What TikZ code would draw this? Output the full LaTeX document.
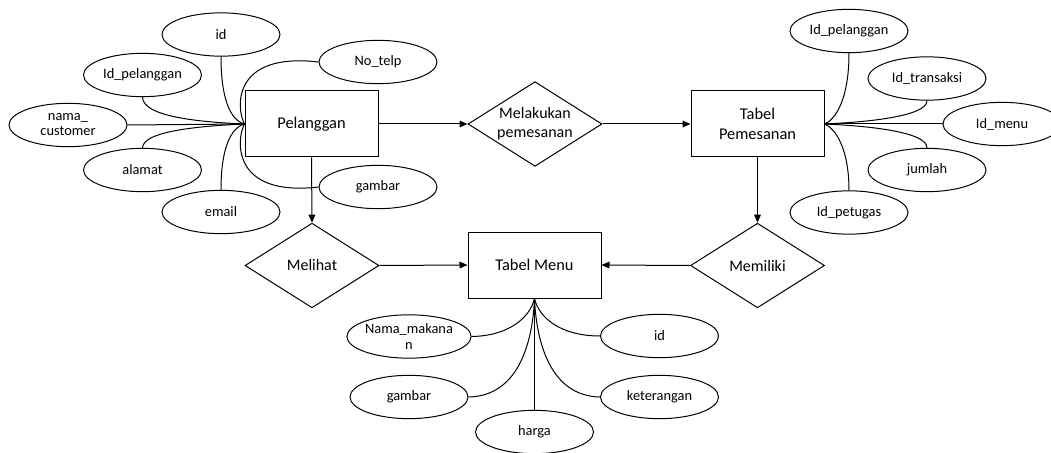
\documentclass[tikz,border=0pt]{standalone}
\usepackage{fontspec}
\setmainfont{Carlito}
\usetikzlibrary{shapes.geometric,arrows.meta}
\begin{document}
\begin{tikzpicture}[x=0.75pt,y=-0.75pt,
  every path/.style={line width=0.75pt},
  entity/.style={draw,rectangle,minimum width=99.75pt,minimum height=49.5pt,inner sep=0pt,align=center,font=\fontsize{12.3}{15}\selectfont},
  rel/.style={draw,diamond,aspect=1.58,minimum width=100.5pt,minimum height=63.5pt,inner sep=0pt,align=center,font=\fontsize{12}{14}\selectfont},
  attr/.style={draw,ellipse,minimum width=88.5pt,minimum height=32.5pt,inner sep=0pt,align=center,font=\fontsize{10.8}{11.3}\selectfont},
  arr/.style={-{Triangle[length=6pt,width=5pt]}},
  link/.style={draw}
]
\useasboundingbox (0,0) rectangle (1051,453);

% entities
\node[entity] (pel) at (311.5,124) {Pelanggan};
\node[entity] (pem) at (757.5,124) {Tabel\\Pemesanan};
\node[entity] (menu) at (534.5,265) {Tabel Menu};

% relations
\node[rel] (mel) at (535,124) {Melakukan\\pemesanan};
\node[rel] (lih) at (312,265.5) {Melihat};
\node[rel] (mil) at (757.5,265.5) {Memiliki};

% Pelanggan attributes
\node[attr] (pid) at (221,34.5) {id};
\node[attr] (pnotelp) at (378,62) {No\_telp};
\node[attr] (pidpel) at (142.5,75) {Id\_pelanggan};
\node[attr] (pnama) at (68,125) {nama\_\\customer};
\node[attr] (palamat) at (142.5,170) {alamat};
\node[attr] (pemail) at (221,212) {email};
\node[attr] (pgambar) at (378,187) {gambar};

% Pemesanan attributes
\node[attr] (midpel) at (849,31) {Id\_pelanggan};
\node[attr] (midtr) at (927,78.5) {Id\_transaksi};
\node[attr] (midmenu) at (1002,124) {Id\_menu};
\node[attr] (mjumlah) at (927,170) {jumlah};
\node[attr] (midpet) at (849,212.5) {Id\_petugas};

% Menu attributes
\node[attr] (tnama) at (409,336.5) {Nama\_makana\\n};
\node[attr] (tgambar) at (409,397) {gambar};
\node[attr] (tharga) at (534.5,432) {harga};
\node[attr] (tid) at (659.5,336) {id};
\node[attr] (tket) at (659.5,397) {keterangan};

% hubs
\coordinate (hp) at (pel.west);
\coordinate (hm) at (pem.east);
\coordinate (ht) at (menu.south);

% arrows
\draw[arr] (pel.east) -- (mel.west);
\draw[arr] (mel.east) -- (pem.west);
\draw[arr] (pel.south) -- (lih.north);
\draw[arr] (lih.east) -- (menu.west);
\draw[arr] (pem.south) -- (mil.north);
\draw[arr] (mil.west) -- (menu.east);

% Pelanggan links
\draw[link] (pid.south) .. controls (221,98) and (230,120) .. (hp);
\draw[link] (pnotelp.west) .. controls (232,52) and (236,108) .. (hp);
\draw[link] (pidpel.south) .. controls (143,117) and (200,122) .. (hp);
\draw[link] (pnama.east) -- (hp);
\draw[link] (palamat.north) .. controls (143,131) and (200,126) .. (hp);
\draw[link] (pemail.north) .. controls (221,150) and (230,128) .. (hp);
\draw[link] (pgambar.west) .. controls (232,197) and (236,140) .. (hp);

% Pemesanan links
\draw[link] (midpel.south) .. controls (849,100) and (835,120) .. (hm);
\draw[link] (midtr.south) .. controls (927,116) and (870,122) .. (hm);
\draw[link] (midmenu.west) -- (hm);
\draw[link] (mjumlah.north) .. controls (927,132) and (870,126) .. (hm);
\draw[link] (midpet.north) .. controls (849,148) and (835,128) .. (hm);

% Menu links
\draw[link] (tnama.east) .. controls (508,336) and (530,318) .. (ht);
\draw[link] (tgambar.east) .. controls (522,396) and (533,335) .. (ht);
\draw[link] (tharga.north) -- (ht);
\draw[link] (tid.west) .. controls (561,336) and (539,318) .. (ht);
\draw[link] (tket.west) .. controls (547,396) and (536,335) .. (ht);
\end{tikzpicture}
\end{document}
